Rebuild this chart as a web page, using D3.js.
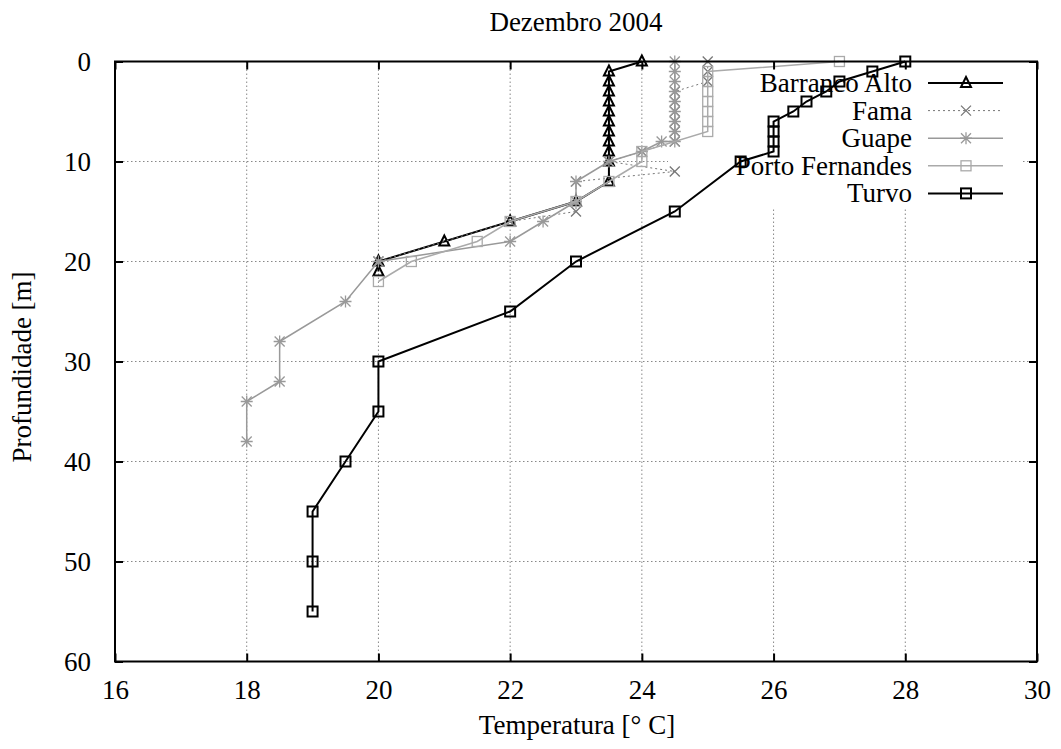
<!DOCTYPE html>
<html>
<head>
<meta charset="utf-8">
<script src="https://cdn.jsdelivr.net/npm/d3@7"></script>
<style>
  body { margin: 0; background: #fff; }
  text { font-family: "Liberation Serif", "Times New Roman", serif; fill: #000; }
</style>
</head>
<body>
<div id="chart-container"></div>
<script>
// data
const baTemp = [24, 23.5, 23.5, 23.5, 23.5, 23.5, 23.5, 23.5, 23.5, 23.5, 23.5, 23.5, 23, 22, 21, 20, 20]
const baDepth = [0, 1, 2, 3, 4, 5, 6, 7, 8, 9, 10, 12, 14, 16, 18, 20, 21]

const famaTemp = [25, 25, 25, 24.5, 24.5, 24.5, 24.5, 24.5, 24.5, 24, 23.5, 24.5, 23, 23, 22, 20]
const famaDepth = [0, 1, 2, 3, 4, 5, 6, 7, 8, 9, 10, 11, 12, 15, 16, 20]

const guapeTemp = [24.5, 24.5, 24.5, 24.5, 24.5, 24.5, 24.5, 24.5, 24.5, 24.3, 24, 23.5, 23, 23, 22.5, 22, 20, 19.5, 18.5, 18.5, 18, 18]
const guapeDepth = [0, 1, 2, 3, 4, 5, 6, 7, 8, 8, 9, 10, 12, 14, 16, 18, 20, 24, 28, 32, 34, 38]

const portoTemp = [27, 25, 25, 25, 25, 25, 25, 25, 24, 24, 23.5, 23, 22, 21.5, 20.5, 20]
const portoDepth = [0, 1, 2, 3, 4, 5, 6, 7, 9, 10, 12, 14, 16, 18, 20, 22]

const turvoTemp = [28, 27.5, 27, 26.8, 26.5, 26.3, 26, 26, 26, 26, 25.5, 24.5, 23, 22, 20, 20, 19.5, 19, 19, 19]
const turvoDepth = [0, 1, 2, 3, 4, 5, 6, 7, 8, 9, 10, 15, 20, 25, 30, 35, 40, 45, 50, 55]

const seriesNames = ['Barranco Alto', 'Fama', 'Guape', 'Porto Fernandes', 'Turvo']
const xTicks = [16, 18, 20, 22, 24, 26, 28, 30]
const yTicks = [0, 10, 20, 30, 40, 50, 60]

// constants
const width = 1061
const height = 749
const margin = {left: 115, top: 61.5, right: 24, bottom: 87.5}
const plotW = width - margin.left - margin.right
const plotH = height - margin.top - margin.bottom
const fontSize = 27

const series = [
  {name: seriesNames[0], temp: baTemp, depth: baDepth, color: '#000', width: 2, dash: null, marker: 'tri'},
  {name: seriesNames[1], temp: famaTemp, depth: famaDepth, color: '#777', width: 1, dash: '2,3', marker: 'x'},
  {name: seriesNames[2], temp: guapeTemp, depth: guapeDepth, color: '#999', width: 1.5, dash: null, marker: 'star'},
  {name: seriesNames[3], temp: portoTemp, depth: portoDepth, color: '#aaa', width: 1.5, dash: null, marker: 'sq'},
  {name: seriesNames[4], temp: turvoTemp, depth: turvoDepth, color: '#000', width: 2, dash: null, marker: 'sq'}
]

const svg = d3.select('#chart-container')
  .append('svg')
  .attr('width', width)
  .attr('height', height)

const x = d3.scaleLinear().domain([16, 30]).range([margin.left, margin.left + plotW])
const y = d3.scaleLinear().domain([0, 60]).range([margin.top, margin.top + plotH])

// grid
const grid = svg.append('g')
grid.selectAll('.vg').data(xTicks.slice(1, -1)).enter()
  .append('line')
  .attr('x1', d => x(d)).attr('x2', d => x(d))
  .attr('y1', y(0)).attr('y2', y(60))
  .attr('stroke', '#888').attr('stroke-width', 1).attr('stroke-dasharray', '1.5,2.5')
grid.selectAll('.hg').data(yTicks.slice(1, -1)).enter()
  .append('line')
  .attr('y1', d => y(d)).attr('y2', d => y(d))
  .attr('x1', x(16)).attr('x2', x(30))
  .attr('stroke', '#888').attr('stroke-width', 1).attr('stroke-dasharray', '1.5,2.5')

// legend box blanks out the grid
const legX = 668, legY = 63, legW = 354, legH = 144
svg.append('rect')
  .attr('x', legX).attr('y', legY).attr('width', legW).attr('height', legH)
  .attr('fill', '#fff')

function marker (g, type, cx, cy, color, sw) {
  const s = 5
  if (type === 'tri') {
    g.append('path')
      .attr('d', `M${cx},${cy - s - 1}L${cx + s},${cy + s - 1}L${cx - s},${cy + s - 1}Z`)
      .attr('fill', 'none').attr('stroke', color).attr('stroke-width', sw)
  } else if (type === 'sq') {
    g.append('rect')
      .attr('x', cx - s).attr('y', cy - s).attr('width', 2 * s).attr('height', 2 * s)
      .attr('fill', 'none').attr('stroke', color).attr('stroke-width', sw)
  } else if (type === 'x') {
    g.append('path')
      .attr('d', `M${cx - s},${cy - s}L${cx + s},${cy + s}M${cx - s},${cy + s}L${cx + s},${cy - s}`)
      .attr('stroke', color).attr('stroke-width', sw)
  } else {
    g.append('path')
      .attr('d', `M${cx - s},${cy - s}L${cx + s},${cy + s}M${cx - s},${cy + s}L${cx + s},${cy - s}M${cx - s - 1},${cy}L${cx + s + 1},${cy}M${cx},${cy - s - 1}L${cx},${cy + s + 1}`)
      .attr('stroke', color).attr('stroke-width', sw)
  }
}

// series
const line = d3.line().x(d => x(d[0])).y(d => y(d[1]))
series.forEach(s => {
  const pts = s.temp.map((t, i) => [t, s.depth[i]])
  const g = svg.append('g')
  g.append('path')
    .datum(pts)
    .attr('d', line)
    .attr('fill', 'none')
    .attr('stroke', s.color)
    .attr('stroke-width', s.width)
    .attr('stroke-dasharray', s.dash)
  pts.forEach(p => marker(g, s.marker, x(p[0]), y(p[1]), s.color, s.width === 2 ? 2 : 1.3))
})

// legend
const leg = svg.append('g')
series.forEach((s, i) => {
  const ly = 83 + i * 27.6
  leg.append('text')
    .attr('x', 912).attr('y', ly + 9)
    .attr('text-anchor', 'end')
    .attr('font-size', fontSize)
    .text(s.name)
  leg.append('line')
    .attr('x1', 928).attr('x2', 1003).attr('y1', ly).attr('y2', ly)
    .attr('stroke', s.color).attr('stroke-width', s.width)
    .attr('stroke-dasharray', s.dash)
  marker(leg, s.marker, 966, ly, s.color, s.width === 2 ? 2 : 1.3)
})

// axes with inward ticks on all four sides
const axB = svg.append('g')
  .attr('transform', `translate(0, ${y(60)})`)
  .call(d3.axisBottom(x).tickValues(xTicks).tickSize(-8).tickPadding(18))
const axT = svg.append('g')
  .attr('transform', `translate(0, ${y(0)})`)
  .call(d3.axisTop(x).tickValues(xTicks).tickSize(-8).tickFormat(''))
const axL = svg.append('g')
  .attr('transform', `translate(${x(16)}, 0)`)
  .call(d3.axisLeft(y).tickValues(yTicks).tickSize(-8).tickPadding(24))
const axR = svg.append('g')
  .attr('transform', `translate(${x(30)}, 0)`)
  .call(d3.axisRight(y).tickValues(yTicks).tickSize(-8).tickFormat(''))

;[axB, axT, axL, axR].forEach(a => {
  a.select('.domain').remove()
  a.selectAll('.tick line').attr('stroke', '#000').attr('stroke-width', 2)
  a.selectAll('.tick text')
    .attr('font-family', '"Liberation Serif", serif')
    .attr('font-size', fontSize)
    .attr('fill', '#000')
})
axL.selectAll('.tick text').attr('dy', '0.33em')

// frame
svg.append('rect')
  .attr('x', x(16)).attr('y', y(0))
  .attr('width', plotW).attr('height', plotH)
  .attr('fill', 'none').attr('stroke', '#000').attr('stroke-width', 2)

// titles
svg.append('text')
  .attr('x', 576).attr('y', 31)
  .attr('text-anchor', 'middle')
  .attr('font-size', fontSize)
  .text('Dezembro 2004')
svg.append('text')
  .attr('x', 577).attr('y', 734)
  .attr('text-anchor', 'middle')
  .attr('font-size', fontSize)
  .text('Temperatura [° C]')
svg.append('text')
  .attr('transform', 'translate(31, 367) rotate(-90)')
  .attr('text-anchor', 'middle')
  .attr('font-size', fontSize)
  .text('Profundidade [m]')
</script>
</body>
</html>
